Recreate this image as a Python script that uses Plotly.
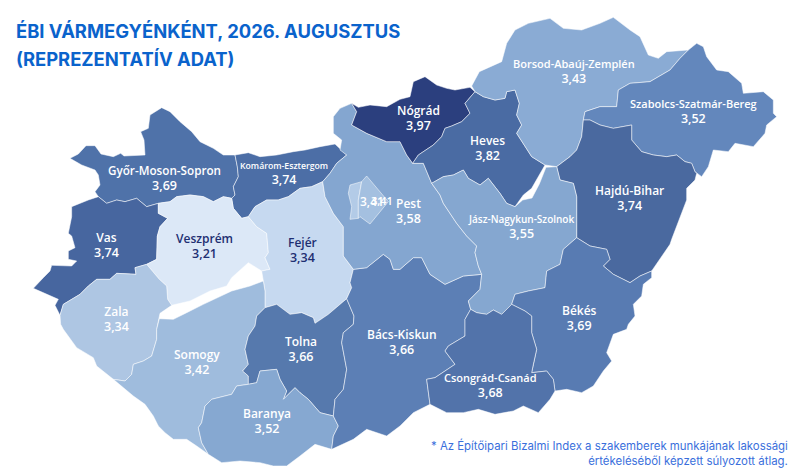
import plotly.graph_objects as go

# county names, values and fills
names = ["Győr-Moson-Sopron", "Komárom-Esztergom", "Vas", "Veszprém", "Fejér", "Zala", "Somogy", "Tolna",
         "Baranya", "Bács-Kiskun", "Pest", "Nógrád", "Heves", "Borsod-Abaúj-Zemplén",
         "Szabolcs-Szatmár-Bereg", "Hajdú-Bihar", "Jász-Nagykun-Szolnok", "Békés", "Csongrád-Csanád"]
values = ["3,69", "3,74", "3,74", "3,21", "3,34", "3,34", "3,42", "3,66", "3,52", "3,66", "3,58", "3,97",
          "3,82", "3,43", "3,52", "3,74", "3,55", "3,69", "3,68"]
fills = ["#4f72a9", "#4c6ea6", "#47669f", "#dce8f7", "#c6d9f0", "#aec6e3", "#9fbcdd", "#5679ad", "#86a8d1",
         "#5c7fb5", "#84a6d0", "#2b3f7e", "#4a6ba3", "#8aabd4", "#6387bc", "#4a699f", "#85a7d0", "#587bb2", "#5273aa"]

# label centres, in the map's own units (3 per screen pixel)
label_x = [492, 852, 318, 612, 906, 348, 591, 903, 801, 1206, 1224, 1254, 1461, 1722, 2079, 1887, 1563, 1737, 1470]
label_y = [535, 523, 735, 738, 751, 957, 1086, 1047, 1263, 1027, 632, 354, 445, 215, 333, 594, 681, 954, 1156]
name_size = [11.7, 8.7, 12, 12, 12, 12, 12, 12, 12, 12, 12, 12, 12, 11, 11, 12, 10, 12, 11]
dark_labels = ["Veszprém", "Fejér"]

# county borders
gms_kom = [(705, 465), (712, 500), (715, 530), (700, 560), (705, 585), (695, 595)]
gms_vesz = [(695, 595), (670, 590), (640, 605), (610, 590), (570, 585), (530, 590), (510, 605), (475, 610)]
gms_vas = [(475, 610), (440, 620), (410, 595), (375, 605), (350, 600), (320, 610), (295, 590)]
gms_outer = [(295, 590), (285, 575), (300, 555), (295, 525), (285, 510), (245, 495), (210, 475), (235, 462),
             (258, 437), (285, 437), (303, 462), (340, 470), (362, 460), (372, 468), (435, 465), (432, 420),
             (422, 395), (445, 385), (450, 345), (485, 323), (510, 335), (540, 365), (575, 395), (600, 425),
             (640, 445), (670, 465), (705, 465)]
vas_vesz = [(475, 610), (475, 640), (503, 655), (480, 680), (472, 708), (470, 778), (440, 793)]
vas_zala = [(440, 793), (405, 803), (408, 823), (350, 820), (330, 838), (290, 838), (265, 858), (240, 883),
            (190, 913), (180, 946)]
vas_outer = [(180, 946), (165, 916), (175, 898), (100, 865), (130, 833), (150, 813), (155, 796), (215, 798),
             (230, 783), (205, 778), (205, 753), (225, 743), (215, 708), (205, 700), (215, 650), (215, 620),
             (265, 600), (295, 590)]
vesz_zala = [(440, 793), (478, 838), (500, 858), (503, 898), (515, 916)]
balaton_north = [(515, 916), (570, 903), (630, 873), (680, 858), (695, 833), (745, 788), (785, 813)]
vesz_fejer = [(745, 650), (770, 680), (800, 700), (800, 708), (805, 758), (795, 773), (810, 808), (785, 813)]
fejer_balaton = [(785, 813), (790, 843)]
kom_vesz = [(695, 595), (700, 625), (725, 655), (745, 650)]
kom_fejer = [(745, 650), (765, 620), (800, 600), (835, 600), (865, 590), (900, 565), (935, 560), (968, 545)]
kom_pest = [(968, 545), (990, 520), (1010, 490), (1040, 465)]
kom_top = [(1040, 465), (1005, 432), (960, 440), (915, 450), (880, 455), (830, 465), (780, 470), (745, 458),
           (705, 465)]
fejer_pest = [(968, 545), (975, 590), (1000, 640), (1030, 680), (1030, 708), (1030, 768), (1060, 808)]
fejer_bacs = [(1060, 808), (1050, 848), (1055, 863), (1040, 896)]
fejer_tolna = [(1040, 896), (985, 943), (945, 970), (940, 953), (905, 938), (870, 943), (830, 913), (795, 923)]
fejer_somogy = [(795, 923), (795, 873), (790, 843)]
balaton_south = [(790, 843), (750, 858), (695, 873), (650, 893), (610, 913), (560, 938), (520, 958), (478, 956)]
zala_balaton = [(478, 956), (480, 940), (515, 916)]
zala_somogy = [(478, 956), (470, 988), (470, 1018), (455, 1068), (430, 1083), (400, 1093), (395, 1123),
               (375, 1143), (340, 1138)]
zala_outer = [(340, 1138), (290, 1098), (280, 1073), (230, 1043), (190, 988), (182, 973), (180, 946)]
somogy_outer = [(340, 1138), (400, 1188), (435, 1213), (460, 1248), (475, 1278), (495, 1298), (520, 1318),
                (560, 1318), (590, 1338), (625, 1363)]
somogy_baranya = [(625, 1363), (605, 1328), (595, 1283), (605, 1268), (615, 1218), (635, 1198), (695, 1183),
                  (710, 1158), (745, 1153)]
somogy_tolna = [(745, 1153), (745, 1128), (728, 1113), (745, 1093), (735, 1048), (745, 1008), (765, 978),
                (770, 948), (795, 923)]
tolna_baranya = [(745, 1153), (770, 1148), (780, 1113), (830, 1108), (840, 1138), (860, 1173), (850, 1198),
                 (885, 1163), (900, 1178), (925, 1198), (960, 1238), (1000, 1248)]
tolna_bacs = [(1000, 1248), (1005, 1198), (1030, 1168), (1040, 1108), (1025, 1028), (1030, 998), (1060, 973),
              (1062, 948), (1040, 896)]
baranya_bacs = [(1000, 1248), (1015, 1278), (1000, 1308), (995, 1348)]
baranya_outer = [(995, 1348), (945, 1333), (900, 1368), (860, 1398), (820, 1398), (780, 1388), (720, 1383),
                 (665, 1388), (625, 1363)]
bacs_outer = [(995, 1348), (1060, 1318), (1100, 1288), (1160, 1308), (1200, 1278), (1240, 1238), (1290, 1213)]
bacs_csong = [(1290, 1213), (1280, 1138), (1305, 1133), (1365, 1093), (1335, 1053), (1345, 1038), (1395, 1008),
              (1395, 958), (1412, 928)]
bacs_jasz = [(1412, 928), (1405, 903), (1440, 868), (1445, 823)]
bacs_pest = [(1445, 823), (1390, 828), (1335, 853), (1290, 823), (1265, 773), (1240, 773), (1200, 808),
             (1180, 808), (1170, 778), (1150, 763), (1100, 803), (1060, 808)]
pest_jasz = [(1445, 823), (1435, 798), (1425, 758), (1430, 738), (1400, 708), (1370, 670), (1330, 610),
             (1320, 585), (1295, 550)]
pest_heves = [(1295, 550), (1270, 490), (1238, 490)]
pest_nograd = [(1238, 490), (1220, 465), (1200, 425), (1160, 425), (1100, 400), (1055, 375), (1070, 335),
               (1055, 310)]
pest_outer = [(1055, 310), (1020, 325), (1000, 350), (1000, 400), (1025, 420), (1020, 450), (1040, 465)]
nograd_top = [(1055, 310), (1075, 322), (1110, 315), (1160, 320), (1200, 298), (1230, 290), (1240, 245),
              (1275, 230), (1310, 255), (1340, 265), (1365, 270), (1410, 262), (1425, 275)]
nograd_heves = [(1425, 275), (1395, 310), (1410, 340), (1385, 365), (1355, 378), (1335, 385), (1325, 410),
                (1300, 435), (1255, 465), (1238, 490)]
borsod_outer = [(1425, 275), (1415, 258), (1438, 215), (1505, 185), (1520, 130), (1545, 90), (1585, 70),
                (1650, 55), (1690, 85), (1745, 90), (1800, 70), (1840, 52), (1890, 90), (1920, 110), (1945, 165),
                (1975, 175), (2000, 155), (2065, 150)]
borsod_szab = [(2065, 150), (2040, 175), (2010, 210), (1950, 245), (1890, 250), (1855, 270), (1850, 320),
               (1800, 320), (1755, 335), (1750, 360)]
borsod_hajdu = [(1750, 360), (1745, 410), (1730, 450), (1710, 470), (1670, 500)]
borsod_gap = [(1670, 500), (1635, 495)]
heves_borsod = [(1635, 495), (1595, 470), (1570, 430), (1550, 400), (1565, 375), (1550, 345), (1558, 310),
                (1545, 270), (1520, 275), (1515, 295), (1485, 300), (1450, 290), (1425, 275)]
heves_lake = [(1635, 495), (1625, 510), (1595, 565), (1570, 585), (1545, 620)]
heves_jasz = [(1545, 620), (1520, 610), (1500, 580), (1465, 535), (1440, 555), (1405, 535), (1390, 510),
              (1360, 525), (1330, 530), (1295, 550)]
jasz_lake = [(1545, 620), (1568, 600), (1596, 594), (1618, 552), (1638, 502), (1670, 500)]
jasz_hajdu = [(1670, 500), (1680, 540), (1720, 550), (1730, 590), (1730, 713)]
jasz_bekes = [(1730, 713), (1690, 748), (1680, 793), (1640, 813), (1635, 863), (1585, 873), (1545, 883),
              (1535, 913)]
jasz_csong = [(1535, 913), (1505, 943), (1480, 930), (1460, 943), (1430, 938), (1412, 928)]
hajdu_bekes = [(1730, 713), (1770, 738), (1820, 748), (1830, 778), (1810, 798), (1840, 823), (1890, 848),
               (1920, 828), (1955, 813)]
hajdu_outer = [(1955, 813), (2010, 733), (2015, 718), (2040, 650), (2060, 600), (2060, 565), (2085, 540),
               (2090, 520), (2085, 515)]
hajdu_szab = [(2085, 515), (2075, 490), (2055, 485), (2030, 465), (2000, 470), (1960, 465), (1925, 455),
              (1895, 420), (1895, 375), (1840, 385), (1800, 375), (1770, 360), (1750, 360)]
szab_outer = [(2085, 515), (2105, 530), (2125, 500), (2140, 450), (2185, 455), (2205, 430), (2260, 440),
              (2295, 400), (2300, 375), (2330, 350), (2320, 340), (2320, 300), (2290, 275), (2230, 280),
              (2225, 250), (2185, 215), (2150, 210), (2120, 170), (2110, 140), (2090, 130), (2065, 150)]
bekes_outer = [(1955, 813), (1955, 833), (1930, 853), (1925, 888), (1900, 913), (1905, 948), (1885, 973),
               (1880, 988), (1840, 1003), (1820, 1058), (1835, 1083), (1810, 1113), (1780, 1158), (1745, 1178),
               (1700, 1168), (1665, 1173)]
bekes_csong = [(1535, 913), (1575, 933), (1595, 948), (1595, 998), (1610, 1048), (1600, 1093), (1595, 1118),
               (1640, 1113), (1660, 1138), (1665, 1173)]
csong_outer = [(1665, 1173), (1650, 1198), (1615, 1238), (1570, 1218), (1540, 1233), (1485, 1243), (1435, 1228),
               (1390, 1238), (1340, 1238), (1290, 1213)]
buda_outline = [(1085, 545), (1050, 555), (1045, 580), (1055, 620), (1050, 658), (1075, 655)]
budapest_east = [(1085, 545), (1100, 528), (1165, 605), (1145, 630), (1110, 672), (1080, 650), (1075, 655)]
danube_city = [(1085, 545), (1075, 600), (1075, 655)]

rings = {
    "Győr-Moson-Sopron": [gms_outer, gms_kom, gms_vesz, gms_vas],
    "Komárom-Esztergom": [kom_top, gms_kom, kom_vesz, kom_fejer, kom_pest],
    "Vas": [vas_outer, gms_vas, vas_vesz, vas_zala],
    "Veszprém": [gms_vesz, kom_vesz, vesz_fejer, balaton_north, vesz_zala, vas_vesz],
    "Fejér": [kom_fejer, fejer_pest, fejer_bacs, fejer_tolna, fejer_somogy, fejer_balaton, vesz_fejer],
    "Zala": [vas_zala, vesz_zala, zala_balaton, zala_somogy, zala_outer],
    "Somogy": [fejer_somogy, balaton_south, zala_somogy, somogy_outer, somogy_baranya, somogy_tolna],
    "Tolna": [somogy_tolna, tolna_baranya, tolna_bacs, fejer_tolna],
    "Baranya": [somogy_baranya, tolna_baranya, baranya_bacs, baranya_outer],
    "Bács-Kiskun": [fejer_bacs, bacs_pest, bacs_jasz, bacs_csong, bacs_outer, baranya_bacs, tolna_bacs],
    "Pest": [pest_outer, kom_pest, fejer_pest, bacs_pest, pest_jasz, pest_heves, pest_nograd],
    "Nógrád": [nograd_top, nograd_heves, pest_nograd],
    "Heves": [nograd_heves, heves_borsod, heves_lake, heves_jasz, pest_heves],
    "Borsod-Abaúj-Zemplén": [borsod_outer, borsod_szab, borsod_hajdu, borsod_gap, heves_borsod],
    "Szabolcs-Szatmár-Bereg": [borsod_szab, hajdu_szab, szab_outer],
    "Hajdú-Bihar": [borsod_hajdu, jasz_hajdu, hajdu_bekes, hajdu_outer, hajdu_szab],
    "Jász-Nagykun-Szolnok": [heves_jasz, jasz_lake, jasz_hajdu, jasz_bekes, jasz_csong, bacs_jasz, pest_jasz],
    "Békés": [hajdu_bekes, bekes_outer, bekes_csong, jasz_bekes],
    "Csongrád-Csanád": [jasz_csong, bekes_csong, csong_outer, bacs_csong],
}


# walk the borders of one county end to end, flipping those that run the wrong way
def chain(parts):
    left = list(parts[1:])
    pts = list(parts[0])
    while left:
        for part in left:
            if part[0] == pts[-1]:
                pts += part[1:]
            elif part[-1] == pts[-1]:
                pts += part[::-1][1:]
            else:
                continue
            left.remove(part)
            break
        else:
            raise ValueError(f"gap at {pts[-1]}")
    return pts


def add_area(fig, parts, color, label, value):
    pts = chain(parts)
    fig.add_trace(go.Scatter(x=[p[0] for p in pts] + [pts[0][0]], y=[p[1] for p in pts] + [pts[0][1]],
                             mode="lines", fill="toself", fillcolor=color,
                             line=dict(color="rgba(255,255,255,0.65)", width=0.8),
                             name=label, text=f"{label}: {value}", hoverinfo="text", hoveron="fills"))


fig = go.Figure()
for name, value, color in zip(names, values, fills):
    add_area(fig, rings[name], color, name, value)

# Budapest sits on top of Pest
add_area(fig, [buda_outline, danube_city], "#b3cbe7", "Budapest", "3,41")
add_area(fig, [budapest_east, danube_city], "#a4c0e0", "Budapest", "3,41")

# base size sets the line spacing, the spans set the glyph sizes
for name, value, x, y, size in zip(names, values, label_x, label_y, name_size):
    color = "#1e2f72" if name in dark_labels else "white"
    text = f'<span style="font-size:{size}px">{name}</span><br><span style="font-size:12.5px">{value}</span>'
    fig.add_annotation(x=x, y=y, text=text, showarrow=False,
                       font=dict(family="Open Sans", size=11.3, color=color, weight=600))

# the two overlapping labels inside Budapest
fig.add_annotation(x=1117, y=604, text="3,41", showarrow=False,
                   font=dict(family="Open Sans", size=12, color="white", weight=600))
fig.add_annotation(x=1146, y=602, text="3,41", showarrow=False,
                   font=dict(family="Open Sans", size=11, color="white", weight=600))

title_font = dict(family="Inter", size=18.4, color="#0a63cc", weight=700)
fig.add_annotation(xref="paper", yref="paper", x=0.017, y=0.935, xanchor="left", yanchor="middle",
                   text="ÉBI VÁRMEGYÉNKÉNT, 2026. AUGUSZTUS", showarrow=False, font=title_font)
fig.add_annotation(xref="paper", yref="paper", x=0.017, y=0.876, xanchor="left", yanchor="middle",
                   text="(REPREZENTATÍV ADAT)", showarrow=False, font=title_font)

note_font = dict(family="Inter", size=11.4, color="#3a6fdc")
fig.add_annotation(xref="paper", yref="paper", x=0.987, y=0.012, xanchor="right", yanchor="bottom", align="right",
                   text="* Az Építőipari Bizalmi Index a szakemberek munkájának lakossági<br>"
                        "értékeléséből képzett súlyozott átlag.",
                   showarrow=False, font=note_font)

fig.update_xaxes(range=[0, 2400], visible=False, fixedrange=True)
fig.update_yaxes(range=[1428, 0], visible=False, fixedrange=True)
fig.update_layout(width=800, height=476, autosize=False, margin=dict(l=0, r=0, t=0, b=0),
                  paper_bgcolor="white", plot_bgcolor="white", showlegend=False)

fig.write_html("out.html", config={"displayModeBar": False},
               post_script="document.body.style.margin='0';document.body.style.overflow='hidden';")
